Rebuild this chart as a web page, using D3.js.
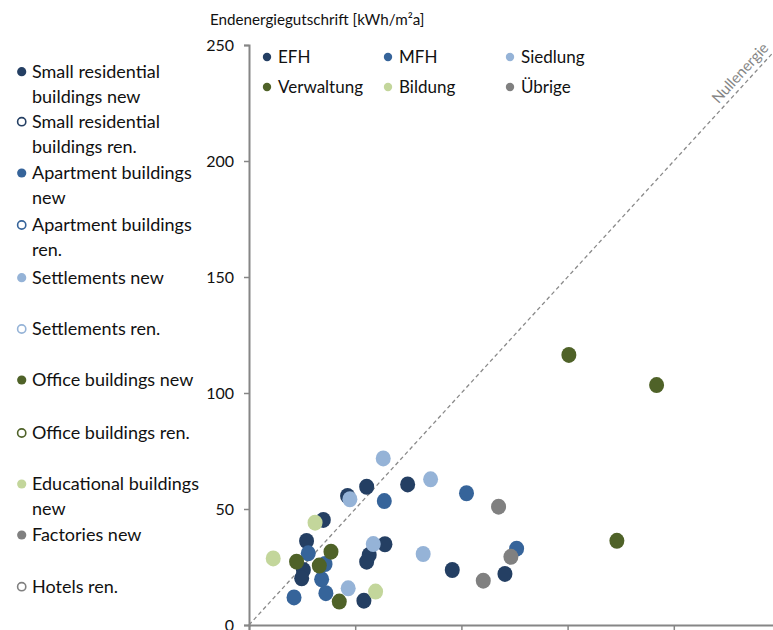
<!DOCTYPE html>
<html>
<head>
<meta charset="utf-8">
<script src="https://cdn.jsdelivr.net/npm/d3@7"></script>
<style>
  html, body { margin: 0; padding: 0; background: #fff; }
  svg { display: block; font-family: Lato, "Open Sans", sans-serif; }
</style>
</head>
<body>
<svg id="chart" width="773" height="630"></svg>
<script>
// Endenergiebedarf (x) vs. Endenergiegutschrift (y), kWh/m²a, per building type
const efh        = [[74.7,60.6],[55.4,59.6],[46.4,55.6],[35.0,45.3],[27.1,36.2],[25.6,23.7],[24.8,20.1],[54.1,10.5],[64.0,34.8],[56.6,30.2],[55.4,27.3],[95.7,23.7],[120.5,22.0]];
const mfh        = [[63.7,53.4],[102.4,56.8],[27.9,30.9],[35.8,26.3],[34.2,19.7],[36.2,13.7],[21.2,11.9],[126.0,32.9]];
const siedlung   = [[63.2,71.8],[85.5,62.8],[47.5,54.2],[46.7,15.8],[58.5,34.9],[82.0,30.6]];
const verwaltung = [[22.4,27.3],[33.1,25.6],[38.6,31.6],[42.5,10.1],[150.6,116.4],[191.9,103.4],[173.2,36.3]];
const bildung    = [[31.1,44.1],[11.4,28.7],[59.6,14.4]];
const uebrige    = [[117.5,51.0],[110.3,19.1],[123.3,29.4]];

const seriesNames  = ["EFH", "MFH", "Siedlung", "Verwaltung", "Bildung", "Übrige"];
const seriesColors = ["#243f63", "#36649a", "#95b3d7", "#4f6228", "#c3d69b", "#808080"];
const seriesData   = [efh, mfh, siedlung, verwaltung, bildung, uebrige];

const yTicks = [0, 50, 100, 150, 200, 250];
const xTicks = [0, 50, 100, 150, 200, 250];

// side legend (English), colour index + filled/open
const sideLegend = [
  { lines: ["Small residential", "buildings new"], c: 0, filled: true },
  { lines: ["Small residential", "buildings ren."], c: 0, filled: false },
  { lines: ["Apartment buildings", "new"], c: 1, filled: true },
  { lines: ["Apartment buildings", "ren."], c: 1, filled: false },
  { lines: ["Settlements new"], c: 2, filled: true },
  { lines: ["Settlements ren."], c: 2, filled: false },
  { lines: ["Office buildings new"], c: 3, filled: true },
  { lines: ["Office buildings ren."], c: 3, filled: false },
  { lines: ["Educational buildings", "new"], c: 4, filled: true },
  { lines: ["Factories new"], c: 5, filled: true },
  { lines: ["Hotels ren."], c: 5, filled: false }
];
const sideLegendY = [71.7, 121.7, 173, 225, 277.7, 329, 380, 433, 484, 535, 586.7];

const svg = d3.select("#chart");

const x = d3.scaleLinear().domain([0, 250]).range([249, 780]);
const y = d3.scaleLinear().domain([0, 250]).range([625, 45]);

const axisColor = "#868686";

// y axis
const gy = svg.append("g")
  .attr("transform", `translate(${x(0)},0)`)
  .call(d3.axisLeft(y).tickValues(yTicks).tickSize(5).tickPadding(10));
gy.select(".domain").attr("stroke", axisColor).attr("stroke-width", 2);
gy.selectAll(".tick line").attr("stroke", axisColor).attr("stroke-width", 1.5);
gy.selectAll(".tick text").attr("fill", "#111").style("font-size", "16px").style("font-family", "Lato");

// x axis (tick marks only)
const gx = svg.append("g")
  .attr("transform", `translate(0,${y(0)})`)
  .call(d3.axisBottom(x).tickValues(xTicks).tickSize(5).tickFormat(""));
gx.select(".domain").attr("stroke", axisColor).attr("stroke-width", 2);
gx.selectAll(".tick line").attr("stroke", axisColor).attr("stroke-width", 1.5);

// axis title
svg.append("text")
  .attr("x", 210).attr("y", 25)
  .style("font-size", "15.2px").attr("fill", "#111")
  .text("Endenergiegutschrift [kWh/m²a]");

// zero-energy balance line y = x
svg.append("line")
  .attr("x1", x(0)).attr("y1", y(0))
  .attr("x2", x(250)).attr("y2", y(250))
  .attr("stroke", "#8a8a8a").attr("stroke-width", 1.3)
  .attr("stroke-dasharray", "4,3");

const ang = Math.atan2(y(0) - y(250), x(250) - x(0)) * 180 / Math.PI;
svg.append("text")
  .attr("transform", `translate(${x(221)},${y(221) - 8}) rotate(${-ang})`)
  .style("font-size", "15px").attr("fill", "#858585")
  .text("Nullenergie");

// data points
seriesData.forEach((data, i) => {
  svg.append("g")
    .selectAll("ellipse")
    .data(data)
    .join("ellipse")
    .attr("cx", d => x(d[0]))
    .attr("cy", d => y(d[1]))
    .attr("rx", 7.5).attr("ry", 8)
    .attr("fill", seriesColors[i]);
});

// inner legend (German)
const innerPos = [[267, 57], [388, 57], [510, 57], [267, 87], [388, 87], [510, 87]];
const inner = svg.append("g");
seriesNames.forEach((name, i) => {
  const [lx, ly] = innerPos[i];
  inner.append("circle").attr("cx", lx).attr("cy", ly).attr("r", 4.2).attr("fill", seriesColors[i]);
  inner.append("text").attr("x", lx + 11).attr("y", ly).attr("dy", "0.36em")
    .style("font-size", "17px").attr("fill", "#111").text(name);
});

// side legend
const side = svg.append("g");
sideLegend.forEach((e, i) => {
  const ly = sideLegendY[i];
  const col = seriesColors[e.c];
  side.append("circle").attr("cx", 21.7).attr("cy", ly).attr("r", e.filled ? 4.6 : 4.1)
    .attr("fill", e.filled ? col : "#fff")
    .attr("stroke", col).attr("stroke-width", e.filled ? 0 : 1.6);
  e.lines.forEach((t, k) => {
    side.append("text").attr("x", 32).attr("y", ly + k * 25).attr("dy", "0.36em")
      .style("font-size", "18px").attr("fill", "#111").text(t);
  });
});
</script>
</body>
</html>
